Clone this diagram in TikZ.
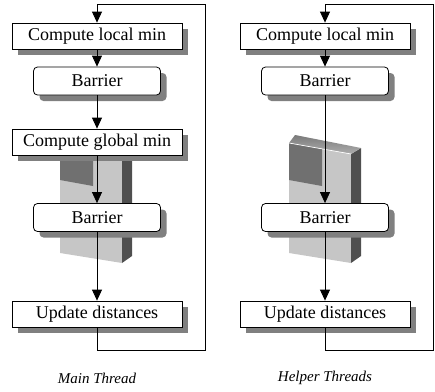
\documentclass[tikz,border=0pt]{standalone}
\usepackage{fontspec}
\setmainfont{Liberation Serif}
\usetikzlibrary{arrows.meta,shadows}
\definecolor{frontgray}{HTML}{C6C6C6}
\definecolor{sidegray}{HTML}{4F4F4F}
\definecolor{darksq}{HTML}{707070}
\definecolor{shadowgray}{HTML}{808080}
\begin{document}
\begin{tikzpicture}[x=1pt,y=-1pt,
  box/.style={draw=black, line width=0.8pt, fill=white, minimum width=170pt,
    minimum height=26pt, inner sep=0pt, font=\fontsize{18}{20}\selectfont,
    drop shadow={shadow xshift=6pt, shadow yshift=-6pt, fill=shadowgray, opacity=1}},
  bar/.style={box, rounded corners=4pt, minimum width=127pt, minimum height=28pt},
  conn/.style={line width=0.8pt, line join=miter, -{Triangle[length=11pt,width=10pt]}},
  lbl/.style={font=\fontsize{15}{18}\selectfont\itshape},
  blk/.pic={
    \fill[frontgray] (0,143) -- (62,154) -- (62,263) -- (0,253) -- cycle;
    \fill[sidegray] (62,154) -- (72,148) -- (72,256) -- (62,263) -- cycle;
    \shade[top color=black!52, bottom color=black!32] (0,143) -- (6,135) -- (72,148) -- (62,154) -- cycle;
    \fill[darksq] (0,143) -- (33,149) -- (33,186) -- (0,180) -- cycle;
    \draw[white, line width=0.7pt] (0,143) -- (62,154);
  }
]
\useasboundingbox (0,0) rectangle (435,391);

% 3D blocks
\pic at (60,0) {blk};
\pic at (289,0) {blk};

% Main thread
\node[box] (cl1) at (97,36) {Compute local min};
\node[bar] (b1) at (97,81) {Barrier};
\node[box] (cg) at (97,142) {Compute global min};
\node[bar] (b2) at (97,217.5) {Barrier};
\node[box] (ud1) at (97,314) {Update distances};

% Helper threads
\node[box] (cl2) at (325,36) {Compute local min};
\node[bar] (b3) at (325,81) {Barrier};
\node[bar] (b4) at (325,217.5) {Barrier};
\node[box] (ud2) at (325,314) {Update distances};

% loop coordinates
\coordinate (lbl1) at (97,350);
\coordinate (lbr1) at (205,350);
\coordinate (ltr1) at (205,4);
\coordinate (ltl1) at (97,4);
\coordinate (lbl2) at (325,350);
\coordinate (lbr2) at (433,350);
\coordinate (ltr2) at (433,4);
\coordinate (ltl2) at (325,4);

% connectors main
\draw[conn] (ud1.south) -- (lbl1) -- (lbr1) -- (ltr1) -- (ltl1) -- (cl1.north);
\draw[conn] (cl1.south) -- (b1.north);
\draw[conn] (b1.south) -- (cg.north);
\draw[conn] (cg.south) -- (b2.north);
\draw[conn] (b2.south) -- (ud1.north);

% connectors helper
\draw[conn] (ud2.south) -- (lbl2) -- (lbr2) -- (ltr2) -- (ltl2) -- (cl2.north);
\draw[conn] (cl2.south) -- (b3.north);
\draw[conn] (b3.south) -- (b4.north);
\draw[conn] (b4.south) -- (ud2.north);

% labels
\node[lbl] (m) at (97,378) {Main Thread};
\node[lbl] (h) at (325,378) {Helper Threads};
\end{tikzpicture}
\end{document}
